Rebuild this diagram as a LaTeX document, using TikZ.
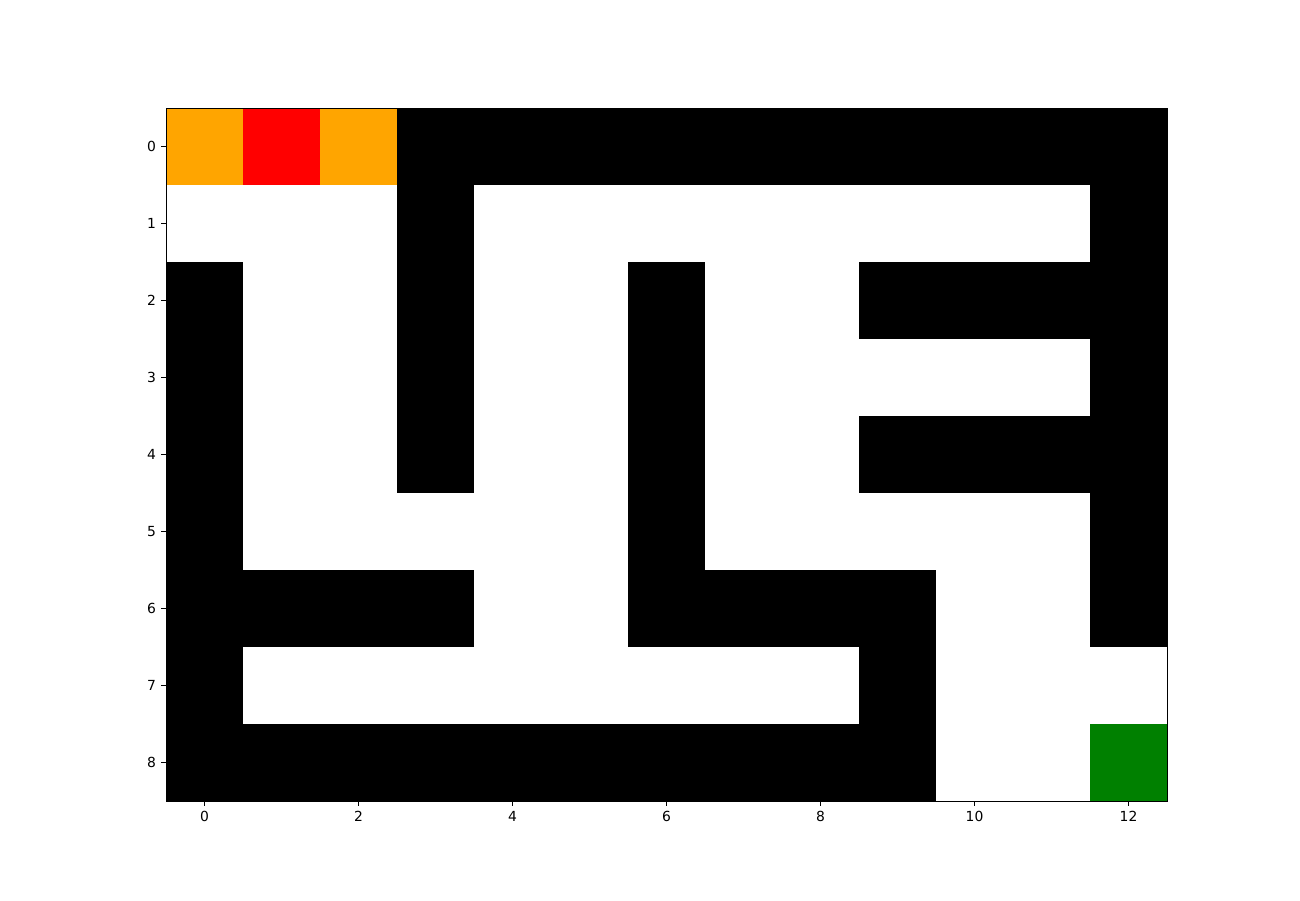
\documentclass[tikz,border=0pt]{standalone}
\usepackage{fontspec}
\setmainfont{DejaVu Sans}
\usepackage{tikz}
\usetikzlibrary{positioning}
\definecolor{mzorange}{RGB}{255,165,0}
\definecolor{mzred}{RGB}{255,0,0}
\definecolor{mzgreen}{RGB}{0,128,0}
\tikzset{
  wall/.style={fill=black},
  spine/.style={draw=black, line width=0.45pt},
  tickmark/.style={draw=black, line width=0.45pt},
  ticklabel/.style={font=\fontsize{7.9}{9}\selectfont, inner sep=0pt}
}
\begin{document}
\begin{tikzpicture}[x=1.54cm, y=1.54cm]
  \useasboundingbox (-2.656,1.9026) rectangle (14.227,-9.786);
  \fill[white] (-2.656,1.9026) rectangle (14.227,-9.786);
  % start, path and goal cells
  \fill[mzorange] (-0.5,0.5) rectangle (0.5,-0.5);
  \fill[mzred] (0.5,0.5) rectangle (1.5,-0.5);
  \fill[mzorange] (1.5,0.5) rectangle (2.5,-0.5);
  \fill[mzgreen] (11.5,-7.5) rectangle (12.5,-8.5);
  % walls: row/first col/last col
  \foreach \r/\a/\b in {0/3/12, 1/3/3, 1/12/12,
      2/0/0, 2/3/3, 2/6/6, 2/9/12,
      3/0/0, 3/3/3, 3/6/6, 3/12/12,
      4/0/0, 4/3/3, 4/6/6, 4/9/12,
      5/0/0, 5/6/6, 5/12/12,
      6/0/3, 6/6/9, 6/12/12,
      7/0/0, 7/9/9,
      8/0/9}
    \fill[wall] (\a-0.5,-\r+0.5) rectangle (\b+0.5,-\r-0.5);
  % axes frame
  \draw[spine] (-0.5,0.5) rectangle (12.5,-8.5);
  % ticks
  \foreach \i in {0,2,...,12} {
    \draw[tickmark] (\i,-8.5) -- (\i,-8.563);
    \node[ticklabel, below=0.063 of {(\i,-8.563)}] (xt\i) {\i};
  }
  \foreach \j in {0,...,8} {
    \draw[tickmark] (-0.5,-\j) -- (-0.563,-\j);
    \node[ticklabel, left=0.063 of {(-0.563,-\j)}] (yt\j) {\j};
  }
\end{tikzpicture}
\end{document}
